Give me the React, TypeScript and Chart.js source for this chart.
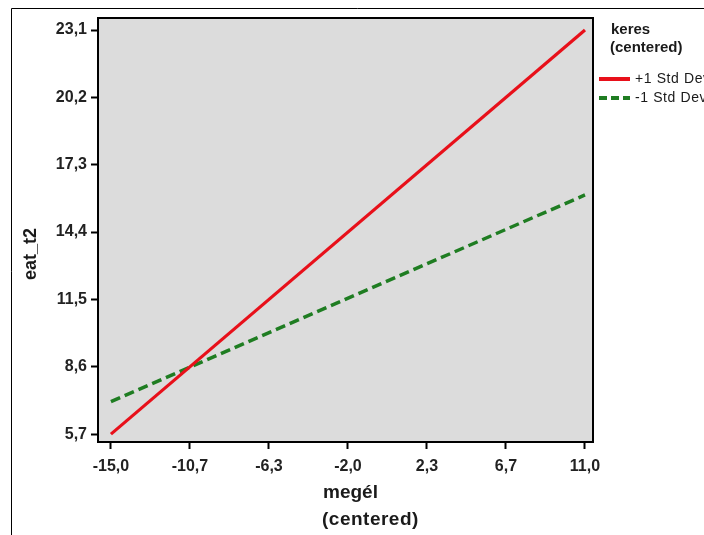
import React, { useEffect, useRef } from "react";
import { Chart, registerables } from "chart.js";

Chart.register(...registerables);

const xValues = [-15.0, 11.0];
const plusOneSD = [5.7, 23.1];
const minusOneSD = [7.1, 16.0];

const xTickValues = [-15.0, -10.667, -6.333, -2.0, 2.333, 6.667, 11.0];
const xTickLabels = ["-15,0", "-10,7", "-6,3", "-2,0", "2,3", "6,7", "11,0"];
const yTickValues = [5.7, 8.6, 11.5, 14.4, 17.3, 20.2, 23.1];
const yTickLabels = ["5,7", "8,6", "11,5", "14,4", "17,3", "20,2", "23,1"];

const seriesNames = ["+1 Std Dev", "-1 Std Dev"];
const legendTitle = ["keres", "(centered)"];
const xTitle = ["megél", "(centered)"];
const yTitle = "eat_t2";

const RED = "#e8101a";
const GREEN = "#1f7d22";
const FONT = '"Liberation Sans", Arial, sans-serif';

const framePlugin = {
  id: "frame",
  beforeDraw(chart: any) {
    const { ctx, chartArea: a, width, height } = chart;
    ctx.save();
    ctx.fillStyle = "#ffffff";
    ctx.fillRect(0, 0, width, height);
    ctx.strokeStyle = "#000";
    ctx.lineWidth = 1;
    ctx.beginPath();
    ctx.moveTo(11.5, height);
    ctx.lineTo(11.5, 8.5);
    ctx.lineTo(width, 8.5);
    ctx.stroke();
    ctx.fillStyle = "#dcdcdc";
    ctx.fillRect(a.left, a.top, a.right - a.left, a.bottom - a.top);
    ctx.restore();
  },
  afterDraw(chart: any) {
    const { ctx, chartArea: a } = chart;
    ctx.save();
    ctx.strokeStyle = "#000";
    ctx.lineWidth = 2;
    ctx.strokeRect(a.left, a.top, a.right - a.left, a.bottom - a.top);

    // axis titles
    ctx.fillStyle = "#1a1a1a";
    ctx.font = "bold 19px " + FONT;
    ctx.textAlign = "left";
    ctx.textBaseline = "middle";
    ctx.fillText(xTitle[0], 323, 493);
    (ctx as any).letterSpacing = "0.5px";
    ctx.fillText(xTitle[1], 322, 520);
    (ctx as any).letterSpacing = "0px";

    ctx.save();
    ctx.translate(31, 254);
    ctx.rotate(-Math.PI / 2);
    ctx.textAlign = "center";
    ctx.font = "bold 18px " + FONT;
    ctx.fillText(yTitle, 0, 0);
    ctx.restore();

    // legend
    ctx.font = "bold 15px " + FONT;
    ctx.textAlign = "left";
    ctx.fillText(legendTitle[0], 611, 30);
    ctx.fillText(legendTitle[1], 610, 48);

    const items = [
      { color: RED, dash: [] as number[], y: 79 },
      { color: GREEN, dash: [8, 4], y: 98 },
    ];
    items.forEach((it, i) => {
      ctx.strokeStyle = it.color;
      ctx.lineWidth = 4;
      ctx.setLineDash(it.dash);
      ctx.beginPath();
      ctx.moveTo(599, it.y);
      ctx.lineTo(630, it.y);
      ctx.stroke();
      ctx.setLineDash([]);
      ctx.fillStyle = "#1a1a1a";
      ctx.font = "14px " + FONT;
      (ctx as any).letterSpacing = "0.6px";
      ctx.fillText(seriesNames[i], 635, it.y);
      (ctx as any).letterSpacing = "0px";
    });
    ctx.restore();
  },
};

export default function App() {
  const ref = useRef<HTMLCanvasElement | null>(null);

  useEffect(() => {
    if (!ref.current) return;
    const chart = new Chart(ref.current, {
      type: "line",
      data: {
        datasets: [
          {
            label: seriesNames[0],
            data: xValues.map((x, i) => ({ x, y: plusOneSD[i] })),
            borderColor: RED,
            borderWidth: 3.2,
            pointRadius: 0,
            fill: false,
          },
          {
            label: seriesNames[1],
            data: xValues.map((x, i) => ({ x, y: minusOneSD[i] })),
            borderColor: GREEN,
            borderWidth: 3.5,
            borderDash: [10, 5],
            pointRadius: 0,
            fill: false,
          },
        ],
      },
      options: {
        animation: false,
        responsive: false,
        devicePixelRatio: 1,
        layout: { padding: { left: 0, top: 18, right: 111, bottom: 0 } },
        plugins: {
          legend: { display: false },
          tooltip: { enabled: false },
          title: { display: false },
        },
        scales: {
          x: {
            type: "linear",
            min: -15.71,
            max: 11.44,
            border: { display: false },
            grid: {
              drawOnChartArea: false,
              drawTicks: true,
              tickLength: 7,
              tickColor: "#000",
              tickWidth: 2,
            },
            afterBuildTicks: (s: any) => {
              s.ticks = xTickValues.map((v) => ({ value: v }));
            },
            afterFit: (s: any) => {
              s.height = 93;
            },
            ticks: {
              autoSkip: false,
              maxRotation: 0,
              padding: 8,
              color: "#222",
              font: { family: FONT, size: 16, weight: "bold" },
              callback: (_v: any, i: number) => xTickLabels[i],
            },
          },
          y: {
            type: "linear",
            min: 5.36,
            max: 23.62,
            border: { display: false },
            grid: {
              drawOnChartArea: false,
              drawTicks: true,
              tickLength: 7,
              tickColor: "#000",
              tickWidth: 2,
            },
            afterBuildTicks: (s: any) => {
              s.ticks = yTickValues.map((v) => ({ value: v }));
            },
            afterFit: (s: any) => {
              s.width = 98;
            },
            ticks: {
              autoSkip: false,
              padding: 4,
              color: "#222",
              font: { family: FONT, size: 16, weight: "bold" },
              callback: (_v: any, i: number) => yTickLabels[i],
            },
          },
        },
      },
      plugins: [framePlugin],
    } as any);
    return () => chart.destroy();
  }, []);

  return (
    <div
      style={{
        position: "fixed",
        left: 0,
        top: 0,
        width: 704,
        height: 535,
        background: "#fff",
        overflow: "hidden",
      }}
    >
      <canvas ref={ref} width={704} height={535} style={{ display: "block" }} />
    </div>
  );
}
